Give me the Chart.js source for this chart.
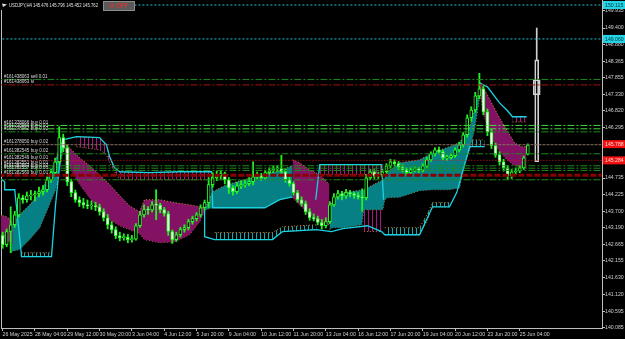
<!DOCTYPE html>
<html><head><meta charset="utf-8">
<script src="https://cdn.jsdelivr.net/npm/chart.js@4.4.1/dist/chart.umd.min.js"></script>
<style>html,body{margin:0;padding:0;background:#000;overflow:hidden}canvas{display:block}</style>
</head><body><canvas id="c" width="625" height="339"></canvas>
<script>
const symbol = 'USDJPY,H4';
const hOffText = 'H OFF';
const xLabels = ['26 May 2025','28 May 04:00','29 May 12:00','30 May 20:00','3 Jun 04:00','4 Jun 12:00','5 Jun 20:00','9 Jun 04:00','10 Jun 12:00','11 Jun 20:00','13 Jun 04:00','16 Jun 12:00','17 Jun 20:00','19 Jun 04:00','20 Jun 12:00','23 Jun 20:00','25 Jun 04:00'];
const yTicks = [149.935,149.400,148.880,148.365,147.855,147.330,146.820,146.295,145.785,145.275,144.735,144.225,143.700,143.190,142.665,142.155,141.630,141.120,140.595,140.085];

const open = [142.95,142.66,143.07,143.28,143.59,144.12,144.06,144.18,144.21,144.25,
144.31,144.37,144.68,144.90,145.24,145.99,145.67,144.62,144.28,144.06,
143.97,143.90,143.87,143.88,143.84,143.69,143.50,143.28,143.13,142.94,
142.88,142.89,142.82,142.83,143.25,143.59,143.75,143.74,143.90,143.89,
143.75,143.63,143.07,142.82,142.97,143.13,143.19,143.38,143.47,143.59,
143.81,143.97,144.53,144.74,144.80,144.87,144.68,144.43,144.31,144.49,
144.53,144.56,144.62,144.77,144.80,144.74,144.90,144.96,145.02,145.03,
144.93,144.68,144.56,144.28,144.06,143.94,143.69,143.50,143.47,143.35,
143.25,143.38,143.90,144.15,144.25,144.18,144.28,144.25,144.19,144.15,
144.12,144.74,144.93,144.80,144.84,144.93,145.11,145.24,145.18,145.08,
144.99,144.90,144.99,145.00,144.98,145.11,145.30,145.49,145.61,145.55,
145.36,145.37,145.43,145.61,145.77,146.08,146.61,146.85,147.29,147.51,
146.79,146.17,145.74,145.46,145.24,145.05,144.80,144.93,144.96,145.05,
145.476];
const high = [143.05,143.15,143.84,143.70,144.25,144.20,144.30,144.35,144.33,144.45,
144.50,144.78,145.00,145.35,146.33,146.10,145.75,144.70,144.36,144.15,
144.10,144.05,144.02,143.98,143.92,143.78,143.60,143.38,143.22,143.05,
143.00,142.98,142.95,143.32,143.70,143.90,143.85,144.00,144.37,143.95,
143.82,143.70,143.12,143.05,143.20,143.28,143.45,143.55,143.66,143.90,
144.05,144.75,144.90,144.95,144.98,144.92,144.75,144.50,144.60,144.65,
144.66,144.75,145.24,144.92,144.88,144.98,145.05,145.10,145.12,145.44,
145.00,144.76,144.62,144.35,144.15,144.02,143.78,143.62,143.55,143.45,
143.50,144.00,144.25,144.35,144.32,144.38,144.35,144.30,144.28,144.40,
144.85,145.00,145.00,144.92,145.00,145.18,145.32,145.30,145.25,145.15,
145.05,145.05,145.08,145.06,145.18,145.38,145.55,145.68,145.70,145.60,
145.45,145.50,145.68,145.85,146.15,146.70,146.95,147.40,147.99,147.60,
146.88,146.25,145.82,145.55,145.32,145.12,145.00,145.05,145.12,145.42,
145.796];
const low = [142.55,142.60,142.41,143.20,143.52,143.95,143.98,144.05,144.02,144.15,
144.20,144.30,144.60,144.82,145.20,145.55,144.50,144.15,143.98,143.85,
143.80,143.78,143.76,143.72,143.58,143.40,143.15,143.02,142.85,142.78,
142.80,142.72,142.74,142.80,143.20,143.52,143.60,143.68,143.44,143.65,
143.55,142.95,142.70,142.76,142.90,143.05,143.12,143.30,143.40,143.52,
143.74,143.82,144.45,144.65,144.70,144.55,144.25,144.20,144.25,144.40,
144.45,144.50,144.52,144.70,144.65,144.68,144.85,144.90,144.94,144.86,
144.60,144.48,144.20,143.98,143.86,143.60,143.42,143.40,143.28,143.15,
143.18,143.32,143.85,144.08,144.05,144.10,144.15,144.10,144.08,143.70,
144.05,144.68,144.72,144.72,144.78,144.88,145.05,145.10,145.00,144.92,
144.82,144.85,144.92,144.90,144.92,145.05,145.25,145.42,145.48,145.30,
145.28,145.32,145.38,145.55,145.70,146.00,146.50,146.78,147.20,146.70,
146.05,145.65,145.38,145.15,144.95,144.70,144.72,144.85,144.90,145.00,
145.452];
const close = [142.66,143.07,143.28,143.59,144.12,144.06,144.18,144.21,144.25,144.31,
144.37,144.68,144.90,145.24,145.99,145.67,144.62,144.28,144.06,143.97,
143.90,143.87,143.88,143.84,143.69,143.50,143.28,143.13,142.94,142.88,
142.89,142.82,142.83,143.25,143.59,143.75,143.74,143.90,143.89,143.75,
143.63,143.07,142.82,142.97,143.13,143.19,143.38,143.47,143.59,143.81,
143.97,144.53,144.74,144.80,144.87,144.68,144.43,144.31,144.49,144.53,
144.56,144.62,144.77,144.80,144.74,144.90,144.96,145.02,145.03,144.93,
144.68,144.56,144.28,144.06,143.94,143.69,143.50,143.47,143.35,143.25,
143.38,143.90,144.15,144.25,144.18,144.28,144.25,144.19,144.15,144.12,
144.74,144.93,144.80,144.84,144.93,145.11,145.24,145.18,145.08,144.99,
144.90,144.99,145.00,144.98,145.11,145.30,145.49,145.61,145.55,145.36,
145.37,145.43,145.61,145.77,146.08,146.61,146.85,147.29,147.51,146.79,
146.17,145.74,145.46,145.24,145.05,144.80,144.93,144.96,145.05,145.36,
145.762];

// higher-timeframe outline candle on the right
const htfIndex = 132.2;
const htfWick = [148.41, 149.40];
const htfBody = [145.24, 148.41];
const htfBox = [147.32, 147.79];

// solid cloud pieces (bar index, upper span, lower span)
const p0X = [-0.7,1,2.5], p0Top = [143.59,143.53,143.38], p0Bot = [142.91,142.82,142.66];
const t1X = [2.2,4.2,6.7,9.2,11.6,13.1,14.6,15.1];
const t1Top = [143.28,143.59,143.90,144.28,144.84,145.30,145.86,145.92];
const t1Bot = [142.45,142.51,142.82,143.19,143.90,144.37,145.30,145.89];
const p1X = [14.9,16.6,19.1,21.5,24,26.5,29,31.4,33.9,35.1,38.9,42.6,46.3,48.8,50.2];
const p1Top = [145.92,145.67,145.36,145.12,144.84,144.53,144.19,143.87,143.69,144.06,144.06,143.97,143.90,143.84,143.81];
const p1Bot = [145.86,145.05,144.53,144.12,143.75,143.44,143.25,143.13,143.00,142.82,142.72,142.75,142.97,143.38,143.75];
const t2X = [50.2,52,55,58.7,62.4,64.9,68.6,71.8];
const t2Top = [143.81,144.31,144.50,144.65,144.77,144.87,144.96,145.12];
const t2Bot = [143.75,143.81,143.81,143.81,143.81,143.84,144.06,144.15];
const p2X = [71.8,73.5,76,78.5,80.9];
const p2Top = [145.30,145.21,144.99,144.84,144.53];
const p2Bot = [144.12,143.90,143.59,143.38,143.28];
const t3X = [80.9,81.7,84.2,88.9,89.4,94.1,94.6,95.3,98.3,103.2,106.4,110.6,113.1,114.4,115.6,116.8,117.8,118.3];
const t3Top = [143.75,144.06,144.28,144.36,144.37,144.68,144.74,144.93,145.21,145.30,145.52,145.71,145.83,146.08,146.33,146.86,147.41,147.54];
const t3Bot = [143.13,143.19,143.19,143.28,143.75,143.75,144.06,144.12,144.14,144.34,144.37,144.37,144.43,145.15,145.61,146.23,147.01,147.48];
const p3X = [118.1,119.3,121.3,123,124.8,126.7,128.5,129.7];
const p3Top = [147.72,147.48,147.01,146.61,146.23,145.83,145.71,145.71];
const p3Bot = [147.41,146.61,145.92,145.55,145.30,145.12,145.05,145.05];

// hatched cloud pieces
const hp1X = [18.3,24,25.7,26.5,27.7,29,36.4,43.8,51.7];
const hp1Top = [146.02,145.99,145.77,145.40,145.05,144.93,144.90,144.93,144.93];
const hp1Bot = [145.71,145.61,145.46,145.21,144.93,144.68,144.68,144.68,144.68];
const ht1X = [4.7,12.1], ht1Top = [142.41,142.41], ht1Bot = [142.29,142.29];
const ht2X = [52.5,66.8,69.3,77.7], ht2Top = [143.04,143.04,143.22,143.28], ht2Bot = [142.82,142.82,143.07,143.13];
const hp2X = [78.5,93.8], hp2Top = [145.15,145.15], hp2Bot = [144.84,144.84];
const hp3X = [89.4,93.8], hp3Top = [143.75,143.75], hp3Bot = [143.07,143.07];
const ht3X = [94.6,103.2,105,106.4,110.6], ht3Top = [143.19,143.19,143.59,143.97,143.97], ht3Bot = [142.97,142.97,143.38,143.84,143.84];
const ht4X = [115.6,119.3], ht4Top = [145.92,145.92], ht4Bot = [145.71,145.71];
const hp4X = [126.2,129.7], hp4Top = [146.64,146.64], hp4Bot = [146.48,146.48];

// cyan envelope lines
const cy1X = [-0.7,0.5,0.5,3,3.5,4.7,12.1,13.1,14.1,14.85];
const cy1Y = [144.74,144.62,144.37,144.37,143.75,142.29,142.29,143.90,145.15,145.92];
const cy2X = [14.85,18.3,24,25.7,26.5,27.7,29,36.4,43.8,51.7,52,64.9,68.6,71.8];
const cy2Y = [145.92,146.02,145.99,145.77,145.39,145.05,144.93,144.90,144.93,144.93,143.81,143.81,144.06,144.15];
const cy3X = [50,50,52.5,66.8,69.3,77.7,81.4,84.2,90.3,93.8,94.6,103.2,106.4,110.6,112.4,115.6,119.3];
const cy3Y = [143.75,142.91,142.82,142.82,143.07,143.13,143.07,143.16,143.25,143.07,142.97,142.97,143.84,143.84,144.28,145.71,145.71];
const cy4X = [77.5,78.5,93.8,94.3], cy4Y = [144.06,145.15,145.15,144.06];
const cy5X = [118.1,120,123,124.8,126.2,129.7], cy5Y = [147.69,147.57,147.07,146.85,146.64,146.64];

// horizontal trade / price levels
const levelPrices = [150.115,149.060,147.80,147.63,146.37,146.265,146.17,145.77,145.488,145.284,145.116,145.04,144.97,144.82,144.68];
const levelKinds  = ['cyan','cyan','green','red','lime','lime','green','khaki','green','redDot','green','green','green','darkred','green'];
const orderTexts = ['#161438063 sell 0.01','#161438063 sl','#161378066 buy 0.01','#161378064 buy 0.01','#161378062 buy 0.02','#161378050 buy 0.02','#161382545 buy 0.02','#161382549 buy 0.01','#161382551 buy 0.01','#161382553 buy 0.02','#161382557 buy 0.01','#161382560 buy 0.01'];
const orderPrices = [147.80,147.63,146.37,146.265,146.17,145.77,145.488,145.284,145.116,145.04,144.97,144.82];
const boxPrices = [150.115,149.060,145.788,145.284];
const boxFill = ['#22d6e8','#22d6e8','#f01010','#f01010'];
const boxInk = ['#003038','#003038','#ffd8d8','#ffd8d8'];

const levelStyle = {
  cyan:{color:'#1fc3d4',width:1,dash:[2,2]},
  green:{color:'#1e8a1e',width:1,dash:[7,2,2,2]},
  lime:{color:'#3ddc3d',width:1,dash:[7,2,2,2]},
  red:{color:'#a51212',width:1,dash:[7,2,2,2]},
  khaki:{color:'#86735f',width:1,dash:[3,1]},
  redDot:{color:'#d41a1a',width:1,dash:[1,2]},
  darkred:{color:'#8a0000',width:3,dash:[6,2]}
};

function hatch(color){
  const cv=document.createElement('canvas'); cv.width=4; cv.height=4;
  const g=cv.getContext('2d'); g.fillStyle=color; g.fillRect(0,0,1,4);
  return g.createPattern(cv,'repeat');
}
const TEAL='rgb(6,128,133)', PURPLE='rgb(131,18,101)', EDGE='rgb(205,135,60)', CYAN='#19d3e2';
const hatchTeal=hatch('#12a8b0'), hatchPurple=hatch('#b0128a');

function pts(xs,ys){return xs.map((x,k)=>({x:x,y:ys[k]}));}
function region(xs,top,bot,fillColor,edge,order){
  return [
    {type:'line',data:pts(xs,top),borderColor:edge||'rgba(0,0,0,0)',borderWidth:edge?1:0,borderDash:[1,2],pointRadius:0,tension:0,fill:{target:'+1'},backgroundColor:fillColor,order:order},
    {type:'line',data:pts(xs,bot),borderColor:edge||'rgba(0,0,0,0)',borderWidth:edge?1:0,borderDash:[1,2],pointRadius:0,tension:0,fill:false,order:order}
  ];
}
function cyanLine(xs,ys){return {type:'line',data:pts(xs,ys),borderColor:CYAN,borderWidth:1.3,pointRadius:0,tension:0,fill:false,order:4};}

const idx = close.map((_,i)=>i);
const datasets = [];
levelPrices.forEach((p,k)=>{
  const s=levelStyle[levelKinds[k]];
  datasets.push({type:'line',data:[{x:-5,y:p},{x:160,y:p}],borderColor:s.color,borderWidth:s.width,borderDash:s.dash,pointRadius:0,fill:false,order:0});
});
datasets.push({type:'bar',data:[{x:htfIndex,y:htfWick}],backgroundColor:'#d0d0d0',barThickness:1,grouped:false,order:1});
datasets.push({type:'bar',data:[{x:htfIndex,y:htfBox}],backgroundColor:'rgba(0,0,0,0)',borderColor:'#d0d0d0',borderWidth:1,borderSkipped:false,barThickness:7,grouped:false,order:1});
datasets.push({type:'bar',data:[{x:htfIndex,y:htfBody}],backgroundColor:'rgba(0,0,0,0)',borderColor:'#d0d0d0',borderWidth:1,borderSkipped:false,barThickness:4,grouped:false,order:1});
datasets.push({type:'bar',data:idx.map(i=>({x:i,y:[open[i],close[i]]})),backgroundColor:idx.map(i=>close[i]<open[i]?'#ffffff':'#000000'),borderColor:'#22ff22',borderWidth:1,borderSkipped:false,barThickness:3,minBarLength:1,grouped:false,order:2});
datasets.push({type:'bar',data:idx.map(i=>({x:i,y:[low[i],high[i]]})),backgroundColor:'#22ee22',barThickness:1.2,grouped:false,order:3});
[[cy1X,cy1Y],[cy2X,cy2Y],[cy3X,cy3Y],[cy4X,cy4Y],[cy5X,cy5Y]].forEach(a=>datasets.push(cyanLine(a[0],a[1])));
datasets.push(...region(p0X,p0Top,p0Bot,PURPLE,EDGE,5));
datasets.push(...region(t1X,t1Top,t1Bot,TEAL,EDGE,5));
datasets.push(...region(p1X,p1Top,p1Bot,PURPLE,EDGE,5));
datasets.push(...region(t2X,t2Top,t2Bot,TEAL,EDGE,5));
datasets.push(...region(p2X,p2Top,p2Bot,PURPLE,EDGE,5));
datasets.push(...region(t3X,t3Top,t3Bot,TEAL,EDGE,5));
datasets.push(...region(p3X,p3Top,p3Bot,PURPLE,EDGE,5));
datasets.push(...region(hp1X,hp1Top,hp1Bot,hatchPurple,EDGE,6));
datasets.push(...region(ht1X,ht1Top,ht1Bot,hatchTeal,EDGE,6));
datasets.push(...region(ht2X,ht2Top,ht2Bot,hatchTeal,EDGE,6));
datasets.push(...region(hp2X,hp2Top,hp2Bot,hatchPurple,EDGE,6));
datasets.push(...region(hp3X,hp3Top,hp3Bot,hatchPurple,EDGE,6));
datasets.push(...region(ht3X,ht3Top,ht3Bot,hatchTeal,EDGE,6));
datasets.push(...region(ht4X,ht4Top,ht4Bot,hatchTeal,EDGE,6));
datasets.push(...region(hp4X,hp4Top,hp4Bot,hatchPurple,EDGE,6));

const FONT = {family:'"Liberation Sans", Arial, sans-serif', size:5.2};
function squeezedText(c,text,x,y,sx){c.save();c.translate(x,y);c.scale(sx,1);c.fillText(text,0,0);c.restore();}
const deco = {
  id:'deco',
  beforeDraw(chart){const c=chart.ctx;c.save();c.fillStyle='#000';c.fillRect(0,0,chart.width,chart.height);c.restore();},
  afterDraw(chart){
    const c=chart.ctx, ys=chart.scales.y;
    c.save();
    c.font='5.2px "Liberation Sans", Arial, sans-serif';
    c.textBaseline='bottom'; c.fillStyle='#d8d8d8';
    orderTexts.forEach((t,k)=>squeezedText(c,t,4,ys.getPixelForValue(orderPrices[k])-0.5,0.88));
    c.fillStyle='#000'; c.fillRect(1,0,102,10);
    c.fillStyle='#e2e2e2'; c.textBaseline='middle';
    const L=close.length-1;
    squeezedText(c,symbol+' '+[open[L],high[L],low[L],close[L]].map(v=>v.toFixed(3)).join(' '),9,5.5,0.82);
    c.beginPath(); c.moveTo(2,3.5); c.lineTo(7,4.5); c.lineTo(3,7); c.closePath(); c.fill();
    c.fillStyle='#5a5a5a'; c.fillRect(103,1,32,10);
    c.strokeStyle='#8c8c8c'; c.lineWidth=1; c.strokeRect(103.5,1.5,31,9);
    c.fillStyle='#ff2b2b'; c.font='6.5px "Liberation Sans", Arial, sans-serif'; c.textAlign='center';
    c.fillText(hOffText,119,6.3);
    c.textAlign='left'; c.font='5.2px "Liberation Sans", Arial, sans-serif';
    boxPrices.forEach((p,k)=>{const py=ys.getPixelForValue(p);c.fillStyle=boxFill[k];c.fillRect(603,py-4,22,8);c.fillStyle=boxInk[k];c.fillText(p.toFixed(3),605,py+0.3);});
    c.restore();
  }
};

new Chart(document.getElementById('c'),{
  type:'bar',
  data:{datasets:datasets},
  plugins:[deco],
  options:{
    responsive:false, devicePixelRatio:1, animation:false,
    layout:{padding:0},
    plugins:{legend:{display:false},tooltip:{enabled:false}},
    scales:{
      x:{type:'linear',position:'bottom',min:-0.4,max:148.36,offset:false,
        grid:{display:true,drawOnChartArea:false,drawTicks:true,tickLength:3,color:'#bdbdbd',offset:false},
        border:{display:true,color:'#bdbdbd'},
        ticks:{autoSkip:false,maxRotation:0,minRotation:0,align:'start',padding:0,color:'#d0d0d0',font:FONT,callback:(v)=>xLabels[Math.round(v/8)]},
        afterBuildTicks:s=>{s.ticks=xLabels.map((_,k)=>({value:k*8}));},
        afterFit:s=>{s.height=11;s.paddingLeft=0;s.paddingRight=0;}
      },
      y:{type:'linear',position:'right',min:140.07,max:150.271,beginAtZero:false,
        grid:{display:true,drawOnChartArea:false,drawTicks:true,tickLength:3,color:'#bdbdbd'},
        border:{display:true,color:'#bdbdbd'},
        ticks:{autoSkip:false,padding:0,color:'#d0d0d0',font:FONT,callback:v=>Number(v).toFixed(3)},
        afterBuildTicks:s=>{s.ticks=yTicks.map(v=>({value:v}));},
        afterFit:s=>{s.width=23;s.paddingTop=0;s.paddingBottom=0;}
      },
      yl:{type:'linear',axis:'y',position:'left',min:140.07,max:150.271,
        grid:{display:false,drawTicks:false},border:{display:true,color:'#bdbdbd'},
        ticks:{display:false},
        afterFit:s=>{s.width=1;s.paddingTop=0;s.paddingBottom=0;}
      }
    }
  }
});
</script></body></html>
